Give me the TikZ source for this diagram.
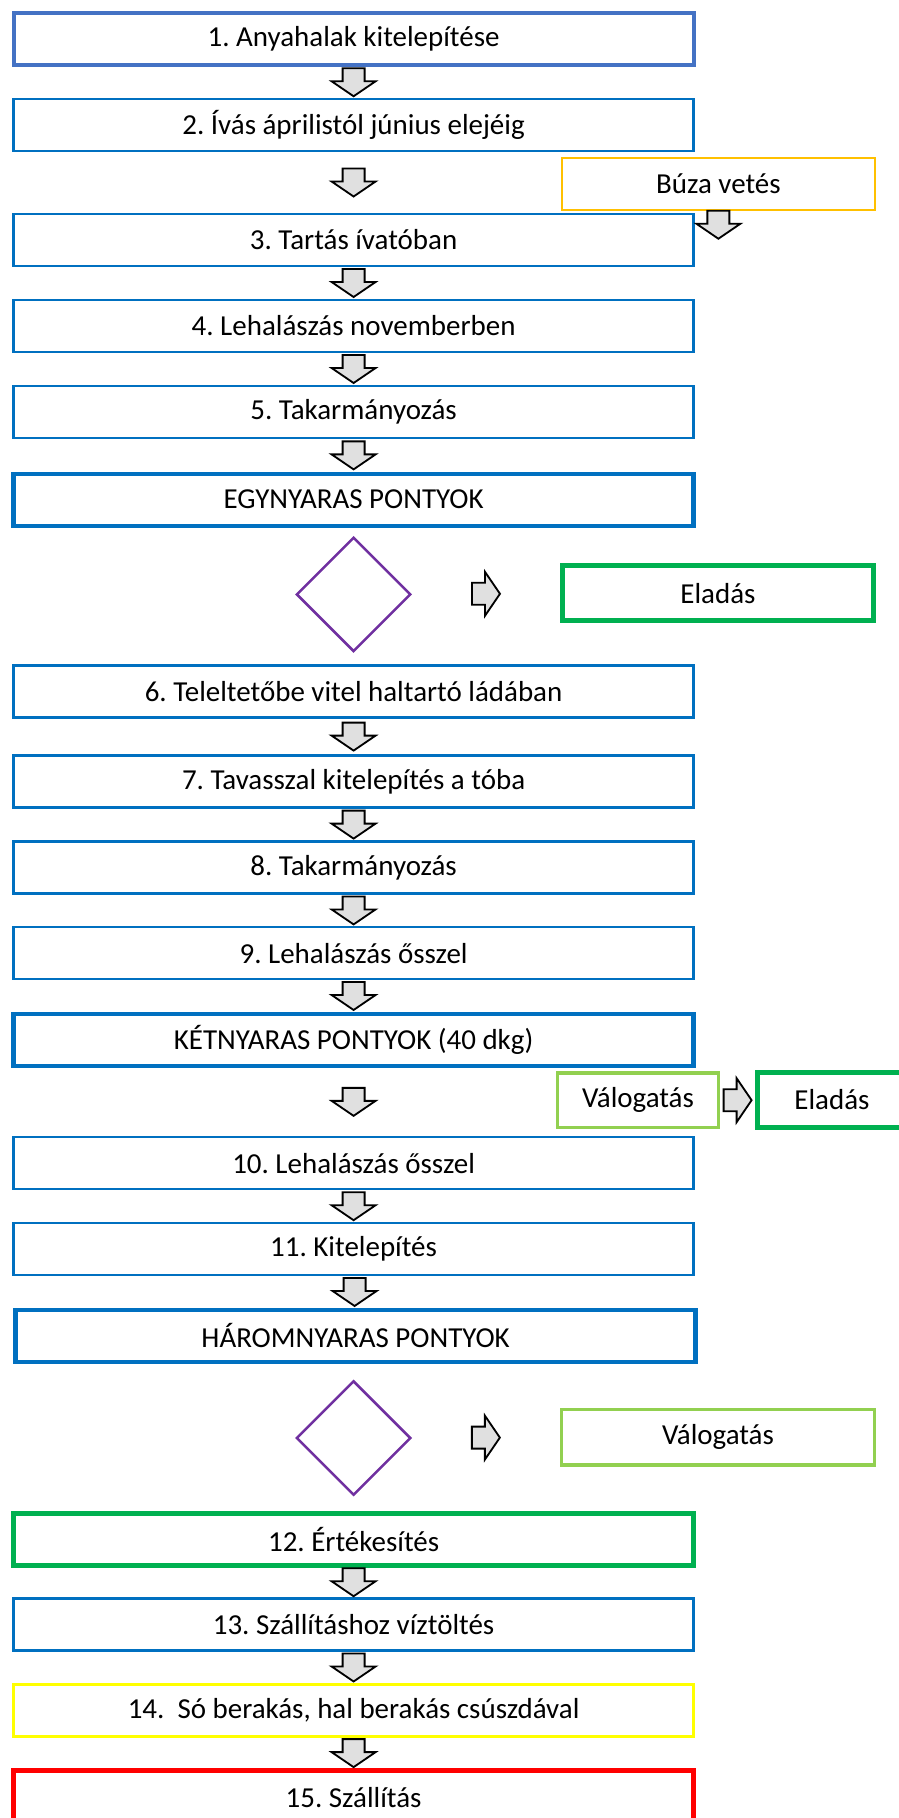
\documentclass[tikz,border=0pt]{standalone}
\usepackage{fontspec}
\setmainfont{Carlito}
\usepackage{tikz}
\usetikzlibrary{shapes.geometric, calc}

\definecolor{stepblue}{HTML}{0070C0}
\definecolor{firstblue}{HTML}{4472C4}
\definecolor{wheatgold}{HTML}{FFC000}
\definecolor{salegreen}{HTML}{00B050}
\definecolor{sortgreen}{HTML}{92D050}
\definecolor{choicepurple}{HTML}{7030A0}
\definecolor{loadyellow}{HTML}{FFFF00}
\definecolor{shipred}{HTML}{FF0000}

\begin{document}
\frenchspacing
\begin{tikzpicture}[
      font=\fontsize{20.6}{24}\selectfont,
      stepbox/.style={draw=stepblue, line width=1.8pt, minimum width=17cm, minimum height=1.3cm, inner sep=0pt},
      stockbox/.style={stepbox, line width=3pt},
      sidebox/.style={draw, minimum height=1.3cm, inner sep=0pt},
      choice/.style={diamond, draw=choicepurple, line width=1.8pt, aspect=1, minimum width=2.86cm, minimum height=2.86cm, inner sep=0pt},
      pics/downarr/.style={code={
        \draw[fill=black!12, line width=1.3pt] (-0.275,0.35) -- (0.275,0.35) -- (0.275,0.025) -- (0.55,0.025)
          -- (0,-0.35) -- (-0.55,0.025) -- (-0.275,0.025) -- cycle;
      }}
    ]
      \useasboundingbox (0,0) rectangle (22.45,-45.45);

      % First year
      \node[stepbox, draw=firstblue, line width=2.85pt, minimum height=1.29cm] (b1) at (8.84,-0.975) {1. Anyahalak kitelepítése};
      \node[stepbox] (b2) at (8.84,-3.125) {2. Ívás áprilistól június elejéig};
      \node[sidebox, draw=wheatgold, line width=1.6pt, minimum width=7.82cm] (busa) at (17.96,-4.6) {Búza vetés};
      \node[stepbox] (b3) at (8.84,-6.0) {3. Tartás ívatóban};
      \node[stepbox] (b4) at (8.84,-8.15) {4. Lehalászás novemberben};
      \node[stepbox] (b5) at (8.84,-10.3) {5. Takarmányozás};
      \node[stockbox] (egy) at (8.84,-12.49) {EGYNYARAS PONTYOK};
      \node[choice] (dia1) at (8.84,-14.86) {};
      \node[sidebox, draw=salegreen, line width=3.6pt, minimum width=7.78cm, minimum height=1.38cm] (elad1) at (17.95,-14.83) {Eladás};

      % Second year
      \node[stepbox] (b6) at (8.84,-17.29) {6. Teleltetőbe vitel haltartó ládában};
      \node[stepbox] (b7) at (8.84,-19.54) {7. Tavasszal kitelepítés a tóba};
      \node[stepbox] (b8) at (8.84,-21.69) {8. Takarmányozás};
      \node[stepbox] (b9) at (8.84,-23.83) {9. Lehalászás ősszel};
      \node[stockbox] (ket) at (8.84,-25.99) {KÉTNYARAS PONTYOK (40 dkg)};
      \node[sidebox, draw=sortgreen, line width=2.2pt, minimum width=4.04cm, minimum height=1.37cm] (valog1) at (15.95,-27.51) {Válogatás};
      \node[sidebox, draw=salegreen, line width=3.6pt, minimum width=3.73cm, minimum height=1.38cm] (elad2) at (20.8,-27.5) {Eladás};

      % Third year
      \node[stepbox] (b10) at (8.84,-29.08) {10. Lehalászás ősszel};
      \node[stepbox] (b11) at (8.84,-31.23) {11. Kitelepítés};
      \node[stockbox] (harom) at (8.89,-33.39) {HÁROMNYARAS PONTYOK};
      \node[choice] (dia2) at (8.84,-35.95) {};
      \node[sidebox, draw=sortgreen, line width=2.2pt, minimum width=7.84cm, minimum height=1.39cm] (valog2) at (17.95,-35.93) {Válogatás};

      % Sale and transport
      \node[stepbox, draw=salegreen, line width=3.4pt, minimum height=1.3cm] (b12) at (8.84,-38.48) {12. Értékesítés};
      \node[stepbox, line width=2.2pt] (b13) at (8.84,-40.61) {13. Szállításhoz víztöltés};
      \node[stepbox, draw=loadyellow, line width=2pt] (b14) at (8.84,-42.76) {14.~~Só berakás, hal berakás csúszdával};
      \node[stepbox, draw=shipred, line width=3.4pt, minimum height=1.32cm] (b15) at (8.84,-44.93) {15. Szállítás};

      % Block arrows
      \pic at ($(b1.south)!0.5!(b2.north)$) {downarr};
      \pic at ($(b2.south)!0.5!(b3.north)$) {downarr};
      \pic at ([yshift=-0.34cm]busa.south) {downarr};
      \pic at ($(b3.south)!0.5!(b4.north)$) {downarr};
      \pic at ($(b4.south)!0.5!(b5.north)$) {downarr};
      \pic at ($(b5.south)!0.5!(egy.north)$) {downarr};
      \pic[rotate=90] at ($(dia1.east)!0.5!(elad1.west)$) {downarr};
      \pic at ($(b6.south)!0.5!(b7.north)$) {downarr};
      \pic at ($(b7.south)!0.5!(b8.north)$) {downarr};
      \pic at ($(b8.south)!0.5!(b9.north)$) {downarr};
      \pic at ($(b9.south)!0.5!(ket.north)$) {downarr};
      \pic at ($(ket.south)!0.5!(b10.north)$) {downarr};
      \pic[rotate=90] at ($(valog1.east)!0.5!(elad2.west)$) {downarr};
      \pic at ($(b10.south)!0.5!(b11.north)$) {downarr};
      \pic at ($(b11.south)!0.5!(harom.north)$) {downarr};
      \pic[rotate=90] at ($(dia2.east)!0.5!(valog2.west)$) {downarr};
      \pic at ($(b12.south)!0.5!(b13.north)$) {downarr};
      \pic at ($(b13.south)!0.5!(b14.north)$) {downarr};
      \pic at ($(b14.south)!0.5!(b15.north)$) {downarr};
    \end{tikzpicture}
\end{document}
